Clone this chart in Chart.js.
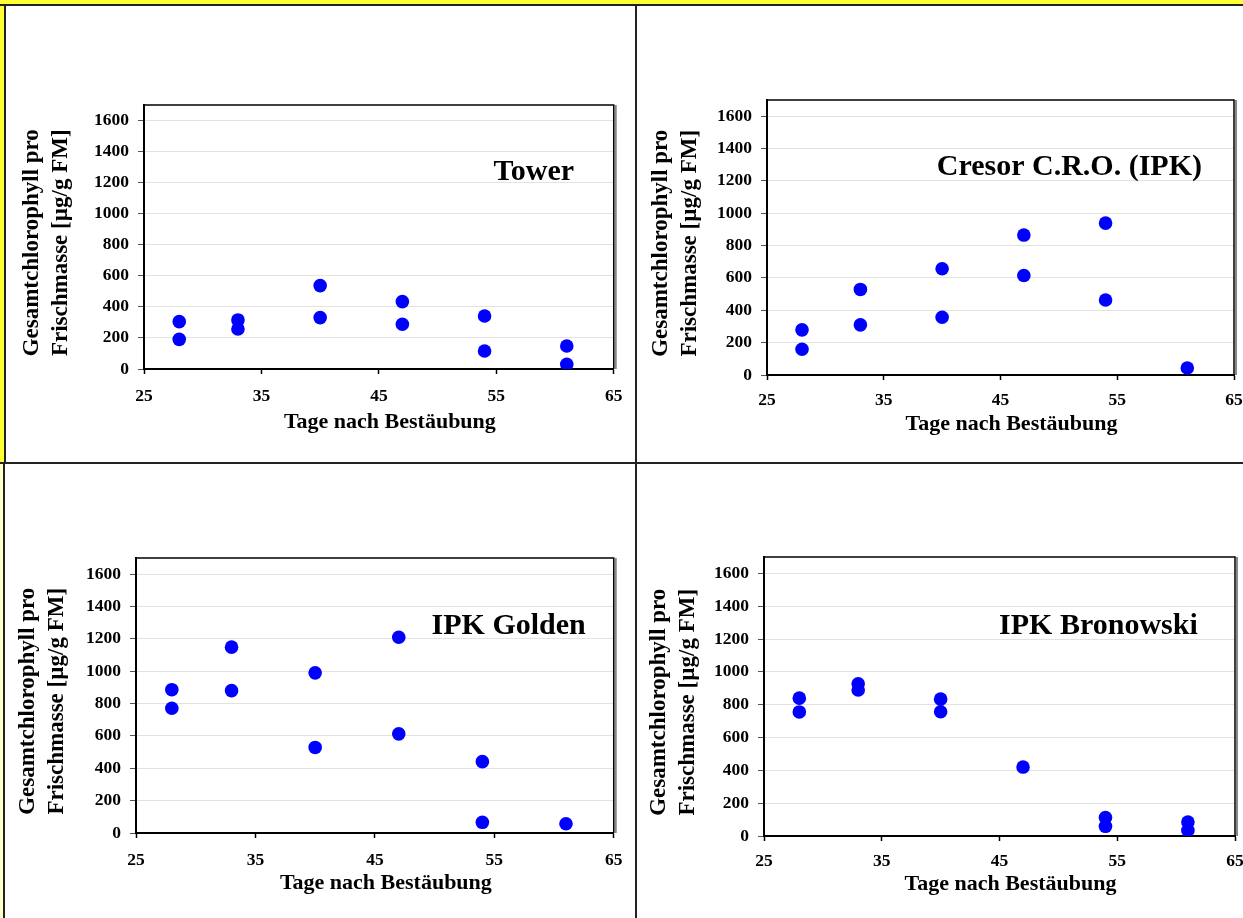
<!DOCTYPE html>
<html>
<head>
<meta charset="UTF-8" />
<title>Gesamtchlorophyll pro Frischmasse</title>
<script src="https://cdn.jsdelivr.net/npm/chart.js"></script>
<style>
    html, body { margin: 0; padding: 0; background: #fff; overflow: hidden; }
    body { width: 1243px; height: 918px; position: relative; }
    .feld { position: absolute; }
    .linie { position: absolute; background: #222; z-index: 5; }
    canvas { position: absolute; }
</style>
</head>
<body>
<!-- gelber Rand -->
<div class="feld" style="left:0;top:0;width:1243px;height:4px;background:#ffff33"></div>
<div class="feld" style="left:0;top:0;width:4px;height:463px;background:#ffff33"></div>
<div class="feld" style="left:0;top:463px;width:3px;height:455px;background:#ffffc8"></div>
<!-- Rahmenlinien -->
<div class="linie" style="left:0;top:4px;width:1243px;height:2px"></div>
<div class="linie" style="left:4px;top:4px;width:2px;height:459px"></div>
<div class="linie" style="left:0;top:462px;width:1243px;height:2px"></div>
<div class="linie" style="left:3px;top:462px;width:2px;height:456px"></div>
<div class="linie" style="left:635px;top:4px;width:2px;height:914px"></div>

<canvas id="c1" width="628" height="455" style="left:6px;top:6px"></canvas>
<canvas id="c2" width="640" height="455" style="left:637px;top:6px"></canvas>
<canvas id="c3" width="629" height="453" style="left:5px;top:464px"></canvas>
<canvas id="c4" width="640" height="453" style="left:637px;top:464px"></canvas>

<script>
// Daten
const towerTage = [28, 28, 33, 33, 40, 40, 47, 47, 54, 54, 61, 61];
const towerWerte = [305, 191, 316, 258, 537, 331, 434, 288, 341, 116, 148, 30];

const cresorTage = [28, 28, 33, 33, 40, 40, 47, 47, 54, 54, 61];
const cresorWerte = [279, 159, 529, 310, 657, 357, 865, 615, 939, 464, 43];

const goldenTage = [28, 28, 33, 33, 40, 40, 47, 47, 54, 54, 61];
const goldenWerte = [886, 771, 1149, 880, 990, 529, 1210, 613, 441, 66, 57];

const bronowskiTage = [28, 28, 33, 33, 40, 40, 47, 54, 54, 61, 61];
const bronowskiWerte = [840, 756, 927, 890, 834, 757, 420, 112, 59, 85, 34];

const xTicks = [25, 35, 45, 55, 65];
const yTicks = [0, 200, 400, 600, 800, 1000, 1200, 1400, 1600];

const sorten = ['Tower', 'Cresor C.R.O. (IPK)', 'IPK Golden', 'IPK Bronowski'];
const xTitel = 'Tage nach Bestäubung';
const yTitel = ['Gesamtchlorophyll pro', 'Frischmasse [µg/g FM]'];

// Lage der Diagramme auf der Seite
var panels = [
    { id: 'c1', tage: towerTage, werte: towerWerte, name: sorten[0],
      box: [6, 6], plot: [144, 105, 614, 369], yt: 112, xt: 53, tp: 11.5, lab: [58.2, 1217] },
    { id: 'c2', tage: cresorTage, werte: cresorWerte, name: sorten[1],
      box: [637, 6], plot: [767, 100, 1234, 375], yt: 106, xt: 49.6, tp: 9.5, lab: [50.9, 1236] },
    { id: 'c3', tage: goldenTage, werte: goldenWerte, name: sorten[2],
      box: [5, 464], plot: [136, 558, 615, 833], yt: 107.5, xt: 50.6, tp: 11.5, lab: [56.2, 1230] },
    { id: 'c4', tage: bronowskiTage, werte: bronowskiWerte, name: sorten[3],
      box: [637, 464], plot: [764, 557, 1235, 836], yt: 105, xt: 48.6, tp: 9.5, lab: [53.4, 1231] }
];

var schrift = '"Liberation Serif", "Times New Roman", serif';

// Rahmen oben/rechts + Sortenname
var rahmenPlugin = {
    id: 'rahmen',
    afterDraw: function(chart, args, opts) {
        var a = chart.chartArea, ctx = chart.ctx;
        ctx.save();
        ctx.strokeStyle = '#888';
        ctx.lineWidth = 2;
        ctx.beginPath();
        ctx.moveTo(a.right + 2, a.top);
        ctx.lineTo(a.right + 2, a.bottom);
        ctx.stroke();
        ctx.strokeStyle = '#000';
        ctx.lineWidth = 1.5;
        ctx.beginPath();
        ctx.moveTo(a.left, a.top);
        ctx.lineTo(a.right, a.top);
        ctx.lineTo(a.right, a.bottom);
        ctx.stroke();
        ctx.font = 'bold 30px ' + schrift;
        ctx.fillStyle = '#000';
        ctx.textAlign = 'center';
        ctx.textBaseline = 'alphabetic';
        ctx.fillText(opts.text, chart.scales.x.getPixelForValue(opts.pos[0]),
                     chart.scales.y.getPixelForValue(opts.pos[1]));
        ctx.restore();
    }
};

panels.forEach(function(p) {
    var cv = document.getElementById(p.id);
    var cw = cv.width, ch = cv.height;
    var wy = p.yt + 14.5;          // Breite der y-Achse
    var hx = p.xt + 13.2;          // Hoehe der x-Achse
    var pad = {
        left: (p.plot[0] - p.box[0]) - wy,
        top: p.plot[1] - p.box[1],
        right: p.box[0] + cw - p.plot[2],
        bottom: p.box[1] + ch - p.plot[3] - hx
    };
    var punkte = p.tage.map(function(t, i) { return { x: t, y: p.werte[i] }; });

    new Chart(cv.getContext('2d'), {
        type: 'scatter',
        data: {
            datasets: [{
                data: punkte,
                backgroundColor: '#0000ff',
                borderWidth: 0,
                pointRadius: 6.8,
                pointHoverRadius: 6.8
            }]
        },
        plugins: [rahmenPlugin],
        options: {
            responsive: false,
            animation: false,
            devicePixelRatio: 1,
            layout: { padding: pad },
            plugins: {
                legend: { display: false },
                tooltip: { enabled: false },
                rahmen: { text: p.name, pos: p.lab }
            },
            scales: {
                x: {
                    type: 'linear',
                    min: 25, max: 65,
                    afterBuildTicks: function(s) { s.ticks = xTicks.map(function(v) { return { value: v }; }); },
                    afterFit: function(s) { s.height = hx; },
                    border: { display: true, color: '#000', width: 2 },
                    grid: { drawOnChartArea: false, drawTicks: true, tickLength: 5, tickColor: '#000', tickWidth: 1.5 },
                    ticks: { padding: p.tp, color: '#000', maxRotation: 0,
                             callback: function(v) { return String(v); },
                             font: { family: schrift, size: 17.5, weight: 'bold' } },
                    title: { display: true, text: '\u2003' + xTitel, color: '#000', padding: 0,
                             font: { family: schrift, size: 22, weight: 'bold' } }
                },
                y: {
                    type: 'linear',
                    min: 0, max: 1700,
                    afterBuildTicks: function(s) { s.ticks = yTicks.map(function(v) { return { value: v }; }); },
                    afterFit: function(s) { s.width = wy; },
                    border: { display: true, color: '#000', width: 2 },
                    grid: { color: '#e2e2e2', lineWidth: 1, tickLength: 6, tickColor: '#555', tickWidth: 1 },
                    ticks: { padding: 9, color: '#000',
                             callback: function(v) { return String(v); },
                             font: { family: schrift, size: 17.5, weight: 'bold' } },
                    title: { display: true, text: yTitel.map(function(t) { return t + '\u2002'; }),
                             color: '#000', padding: 0,
                             font: { family: schrift, size: 23, weight: 'bold', lineHeight: 1.26 } }
                }
            }
        }
    });
});
</script>
</body>
</html>
